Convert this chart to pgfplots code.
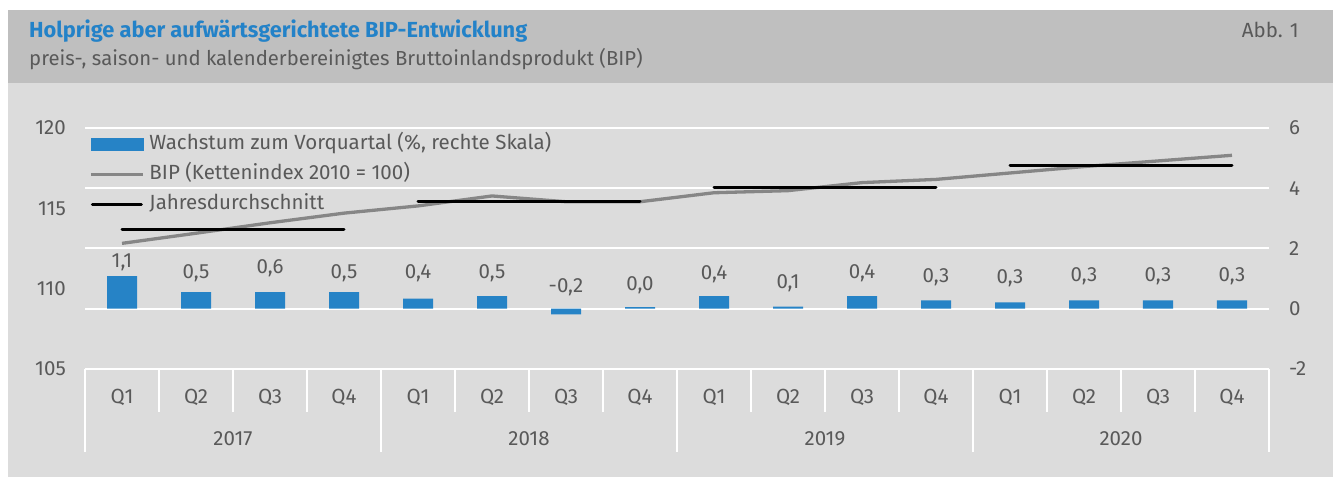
\documentclass[border=0pt]{standalone}
\usepackage{pgfplots}
\pgfplotsset{compat=1.18}
\usepackage{pgfplotstable}
\usepackage{fontspec}
\setmainfont{Fira Sans}
\definecolor{hdr}{HTML}{BFBFBF}
\definecolor{pnl}{HTML}{DCDCDC}
\definecolor{ttl}{HTML}{2382C8}
\definecolor{txt}{HTML}{595959}
\definecolor{barc}{HTML}{2683C6}
\definecolor{linec}{HTML}{868686}
\newcommand\lfont{\fontsize{20.5}{24}\selectfont}
\pgfplotstableread{
x v lab ly
0 1.08 1,1 1.53
1 0.55 0,5 1.19
2 0.55 0,6 1.36
3 0.55 0,5 1.19
4 0.34 0,4 1.17
5 0.42 0,5 1.19
6 -0.19 -0,2 0.71
7 0.05 0,0 0.78
8 0.42 0,4 1.16
9 0.07 0,1 0.86
10 0.42 0,4 1.19
11 0.28 0,3 1.05
12 0.21 0,3 1.00
13 0.28 0,3 1.08
14 0.28 0,3 1.08
15 0.28 0,3 1.08
}\bars
\pgfplotstableread{
x bip
0 112.82
1 113.45
2 114.10
3 114.70
4 115.15
5 115.77
6 115.41
7 115.41
8 115.97
9 116.10
10 116.60
11 116.80
12 117.20
13 117.60
14 117.95
15 118.30
}\bip
\begin{document}
\begin{tikzpicture}[x=1pt,y=1pt]
\useasboundingbox (0,0) rectangle (1333,478);
\fill[white] (0,0) rectangle (1333,478);
\fill[hdr] (8,395) rectangle (1333,468);
\fill[pnl] (8,1) rectangle (1333,395);
\node[anchor=base west, inner sep=0, text=ttl, font=\fontsize{21.8}{25}\selectfont\bfseries] at (29,440.7) {Holprige aber aufwärtsgerichtete BIP-Entwicklung};
\node[anchor=base west, inner sep=0, text=txt, font=\fontsize{20.3}{24}\selectfont] at (29,412) {preis-, saison- und kalenderbereinigtes Bruttoinlandsprodukt (BIP)};
\node[anchor=base east, inner sep=0, text=txt, font=\fontsize{20.5}{24}\selectfont] at (1299,440.4) {Abb. 1};
\begin{axis}[at={(85pt,109pt)}, anchor=south west, scale only axis,
  width=1184pt, height=241pt, clip=false,
  xmin=-0.5, xmax=15.5, ymin=-2, ymax=6,
  axis line style={draw=none}, major tick length=0pt,
  ytick={-2,0,2,4,6}, yticklabels={-2,0,2,4,6}, yticklabel pos=right,
  yticklabel style={anchor=west, inner sep=0pt, xshift=20pt, font=\lfont, text=txt},
  ymajorgrids, grid style={white, line width=2pt},
  xtick={0,...,15},
  xticklabels={Q1,Q2,Q3,Q4,Q1,Q2,Q3,Q4,Q1,Q2,Q3,Q4,Q1,Q2,Q3,Q4},
  xticklabel style={anchor=base, inner sep=0pt, yshift=-35pt, font=\lfont, text=txt},
]
\addplot[ybar, bar width=30pt, fill=barc, draw=none] table[x=x, y=v] {\bars};
\addplot[draw=none, mark=none, nodes near coords, point meta=explicit symbolic,
  every node near coord/.append style={anchor=center, inner sep=0pt, font=\lfont, text=txt}]
  table[x=x, y=ly, meta=lab] {\bars};
\pgfplotsinvokeforeach{0.5,1.5,2.5,4.5,5.5,6.5,8.5,9.5,10.5,12.5,13.5,14.5}{
  \draw[white, line width=2pt] (axis cs:#1,-2) -- ([yshift=-43pt]axis cs:#1,-2);
}
\pgfplotsinvokeforeach{-0.5,3.5,7.5,11.5,15.5}{
  \draw[white, line width=2pt] (axis cs:#1,-2) -- ([yshift=-83pt]axis cs:#1,-2);
}
\node[anchor=base, inner sep=0, font=\lfont, text=txt, yshift=-77pt] at (axis cs:1.5,-2) {2017};
\node[anchor=base, inner sep=0, font=\lfont, text=txt, yshift=-77pt] at (axis cs:5.5,-2) {2018};
\node[anchor=base, inner sep=0, font=\lfont, text=txt, yshift=-77pt] at (axis cs:9.5,-2) {2019};
\node[anchor=base, inner sep=0, font=\lfont, text=txt, yshift=-77pt] at (axis cs:13.5,-2) {2020};
\end{axis}
\begin{axis}[at={(85pt,109pt)}, anchor=south west, scale only axis,
  width=1184pt, height=241pt, clip=false,
  xmin=-0.5, xmax=15.5, ymin=105, ymax=120,
  axis line style={draw=none}, major tick length=0pt,
  xtick=\empty,
  ytick={105,110,115,120}, yticklabels={105,110,115,120},
  yticklabel style={anchor=east, inner sep=0pt, xshift=-19pt, font=\lfont, text=txt},
  legend style={at={(axis cs:-0.5,120)}, anchor=north west, xshift=4pt, yshift=-1pt,
    draw=none, fill=none, inner sep=0pt, font=\lfont, text=txt,
    nodes={inner sep=0pt, text height=15pt, text depth=5pt, minimum height=30pt},
    column sep=5pt},
  legend cell align=left,
]
\addlegendimage{legend image code/.code={\fill[barc] (0pt,-6pt) rectangle (52pt,6pt);}}
\addlegendentry{Wachstum zum Vorquartal (\%, rechte Skala)}
\addplot[linec, line width=3.3pt, legend image code/.code={\draw[linec, line width=3.3pt] (0pt,0pt) -- (52pt,0pt);}] table[x=x, y=bip] {\bip};
\addlegendentry{BIP (Kettenindex 2010 = 100)}
\addplot[black, line width=3pt, line cap=round, legend image code/.code={\draw[black, line width=3pt, line cap=round] (1.5pt,0pt) -- (50.5pt,0pt);}] coordinates {(0,113.71) (3,113.71)};
\addlegendentry{Jahresdurchschnitt}
\addplot[black, line width=3pt, line cap=round, forget plot] coordinates {(4,115.45) (7,115.45)};
\addplot[black, line width=3pt, line cap=round, forget plot] coordinates {(8,116.30) (11,116.30)};
\addplot[black, line width=3pt, line cap=round, forget plot] coordinates {(12,117.68) (15,117.68)};
\end{axis}
\end{tikzpicture}
\end{document}
